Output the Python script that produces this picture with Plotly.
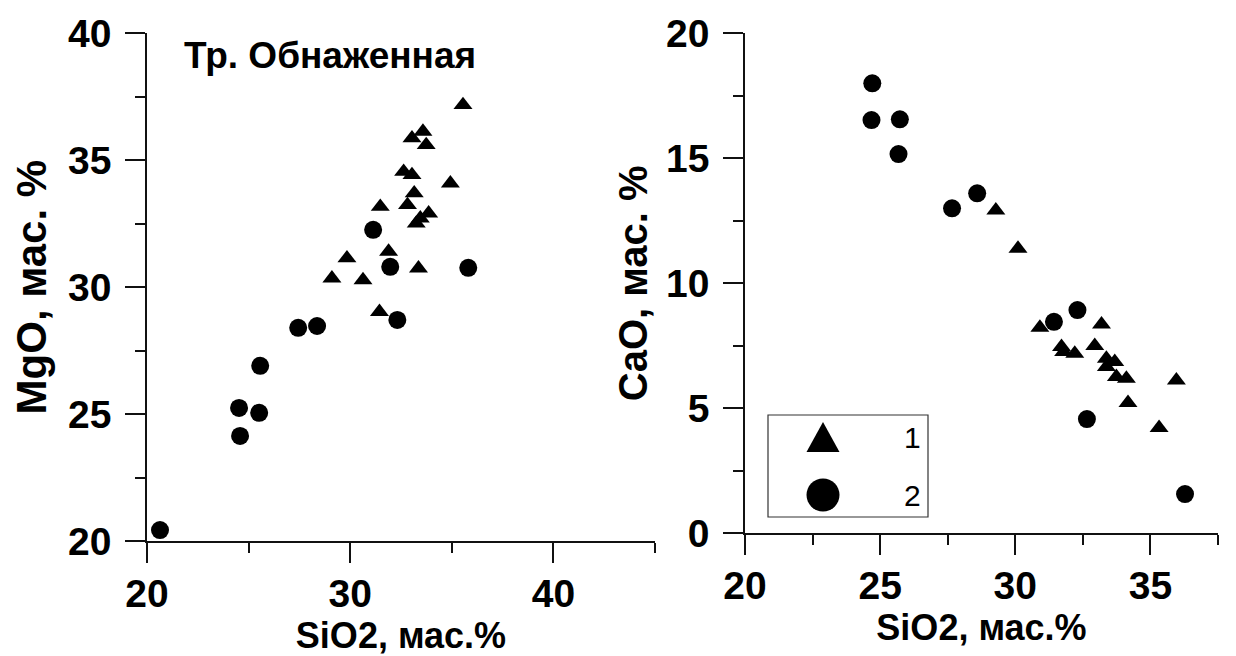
import plotly.graph_objects as go

# ---------------- data ----------------
# Left panel: MgO vs SiO2
mgo_sio2_1 = [35.55, 33.58, 33.04, 33.74, 32.63, 33.04, 34.93, 33.15, 31.48, 32.82,
              33.86, 33.45, 33.25, 31.89, 29.84, 29.10, 30.63, 33.36, 31.44]
mgo_1 = [37.18, 36.13, 35.87, 35.60, 34.55, 34.42, 34.09, 33.70, 33.17, 33.24,
         32.91, 32.71, 32.51, 31.40, 31.14, 30.35, 30.28, 30.74, 29.03]
mgo_sio2_2 = [20.64, 24.53, 24.58, 25.52, 25.57, 27.44, 28.37, 31.13, 31.97, 32.32, 35.81]
mgo_2 = [20.43, 25.24, 24.14, 25.05, 26.90, 28.40, 28.47, 32.26, 30.80, 28.71, 30.76]

# Right panel: CaO vs SiO2
cao_sio2_1 = [29.28, 30.10, 30.91, 33.19, 31.71, 31.79, 32.20, 32.94, 33.37, 33.68,
              33.37, 33.74, 34.11, 35.96, 34.17, 35.32]
cao_1 = [12.92, 11.39, 8.23, 8.36, 7.46, 7.26, 7.19, 7.50, 6.99, 6.86,
         6.66, 6.26, 6.19, 6.12, 5.22, 4.22]
cao_sio2_2 = [20.67, 24.71, 24.68, 25.73, 25.68, 27.66, 28.59, 31.43, 32.30, 32.65, 36.28]
cao_2 = [20.41, 18.00, 16.53, 16.56, 15.17, 13.00, 13.60, 8.46, 8.93, 4.57, 1.57]

series_labels = ["1", "2"]
panel_label = "Тр. Обнаженная"
x_title = "SiO2, мас.%"
left_y_title = "MgO, мас. %"
right_y_title = "CaO, мас. %"

# ---------------- styling ----------------
FONT = "Arial, 'Liberation Sans', sans-serif"
W, H = 1236, 656
OFF = 8  # page body margin of the written html
LINE = "#111111"


def px_x(p):
    return (p - OFF) / W


def px_y(p):
    return 1 - (p - OFF) / H


def axis(domain, rng, dtick, mdtick, anchor, title, standoff, label_gap, title_size):
    return dict(
        domain=domain, range=rng, dtick=dtick, tick0=0, anchor=anchor,
        showgrid=False, zeroline=False, showline=True, linecolor=LINE, linewidth=1.5,
        ticks="outside", ticklen=20, tickwidth=1.5, tickcolor=LINE,
        ticklabelstandoff=label_gap,
        minor=dict(dtick=mdtick, ticks="outside", ticklen=10, tickwidth=1.5,
                   tickcolor=LINE, showgrid=False),
        tickfont=dict(family=FONT, size=39, color="black", weight="bold"),
        title=dict(text=title, standoff=standoff,
                   font=dict(family=FONT, size=title_size, color="black", weight="bold")),
        automargin=False, fixedrange=True,
    )


fig = go.Figure()

tri = dict(symbol="triangle-up", size=16.5, color="black", line=dict(width=0))
cir = dict(symbol="circle", size=18, color="black", line=dict(width=0))

fig.add_trace(go.Scatter(x=mgo_sio2_1, y=mgo_1, mode="markers", marker=tri,
                         name=series_labels[0], xaxis="x", yaxis="y", cliponaxis=False))
fig.add_trace(go.Scatter(x=mgo_sio2_2, y=mgo_2, mode="markers", marker=cir,
                         name=series_labels[1], xaxis="x", yaxis="y", cliponaxis=False))
fig.add_trace(go.Scatter(x=cao_sio2_1, y=cao_1, mode="markers", marker=tri,
                         name=series_labels[0], xaxis="x2", yaxis="y2", cliponaxis=False))
fig.add_trace(go.Scatter(x=cao_sio2_2, y=cao_2, mode="markers", marker=cir,
                         name=series_labels[1], xaxis="x2", yaxis="y2", cliponaxis=False))

fig.update_layout(
    width=W, height=H,
    margin=dict(l=0, r=0, t=0, b=0),
    paper_bgcolor="white", plot_bgcolor="white",
    showlegend=False,
    xaxis=axis([px_x(147), px_x(655)], [20, 45], 10, 5, "y", x_title, 1, -3, 36),
    yaxis=axis([px_y(541), px_y(33.3)], [20, 40], 5, 2.5, "x", left_y_title, 16, 6, 42),
    xaxis2=axis([px_x(745), px_x(1218)], [20, 37.5], 5, 2.5, "y2", x_title, 1, -3, 36),
    yaxis2=axis([px_y(533.3), px_y(33.3)], [0, 20], 5, 2.5, "x2", right_y_title, 6, 6, 40),
)

# panel label
fig.add_annotation(text=panel_label, xref="paper", yref="paper",
                   x=px_x(182), y=px_y(56), xanchor="left", yanchor="middle",
                   showarrow=False,
                   font=dict(family=FONT, size=37, color="black", weight="bold"))

# custom legend (box, symbols and labels)
fig.add_shape(type="rect", xref="paper", yref="paper",
              x0=px_x(768), x1=px_x(928), y0=px_y(517), y1=px_y(415),
              line=dict(color="#333333", width=1.2), fillcolor="white", layer="below")
tx, ty = 823, 437
fig.add_shape(type="path", xref="paper", yref="paper",
              path=f"M {px_x(tx-16.5)},{px_y(ty+15)} L {px_x(tx+16.5)},{px_y(ty+15)} "
                   f"L {px_x(tx)},{px_y(ty-15)} Z",
              fillcolor="black", line=dict(width=0))
cx, cy = 823, 495
fig.add_shape(type="circle", xref="paper", yref="paper",
              x0=px_x(cx-16.5), x1=px_x(cx+16.5), y0=px_y(cy+16.5), y1=px_y(cy-16.5),
              fillcolor="black", line=dict(width=0))
for lab, yy in zip(series_labels, [ty, cy]):
    fig.add_annotation(text=lab, xref="paper", yref="paper", x=px_x(923), y=px_y(yy),
                       xanchor="right", yanchor="middle", showarrow=False,
                       font=dict(family=FONT, size=30, color="black"))

fig.write_html("out.html")
